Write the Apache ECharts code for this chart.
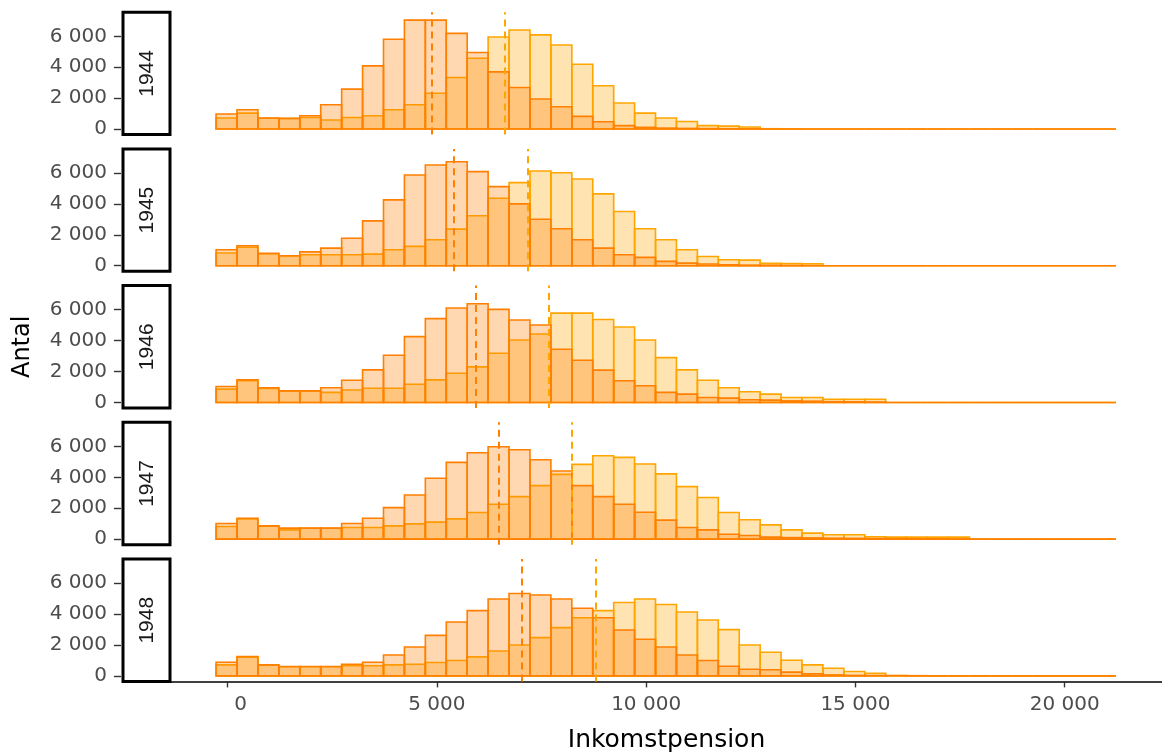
<!DOCTYPE html>
<html>
<head>
<meta charset="utf-8">
<script src="https://cdn.jsdelivr.net/npm/echarts@6/dist/echarts.min.js"></script>
<style>
  html, body { margin: 0; padding: 0; background: #fff; }
  #container { width: 1162px; height: 755px; }
</style>
</head>
<body>
<div id="container"></div>
<script>
var dom = document.getElementById('container');
var myChart = echarts.init(dom, null, { renderer: 'canvas' });

// facets
const years = ['1944', '1945', '1946', '1947', '1948'];

// histogram bins (Inkomstpension), 43 bins
const binStart = -275;
const binWidth = 500;

// counts per bin, women (Kvinnor)
const women1944 = [970, 1250, 710, 690, 860, 1570, 2580, 4090, 5810, 7050, 7050, 6190, 4950, 3700, 2690, 1940, 1440, 820, 470, 220, 110, 60, 40, 30, 20, 10, 0, 0, 0, 0, 0, 0, 0, 0, 0, 0, 0, 0, 0, 0, 0, 0, 0];
const women1945 = [1030, 1290, 800, 650, 900, 1140, 1780, 2900, 4260, 5870, 6520, 6730, 6090, 5120, 4000, 3010, 2390, 1680, 1140, 710, 540, 280, 170, 110, 60, 40, 30, 20, 10, 0, 0, 0, 0, 0, 0, 0, 0, 0, 0, 0, 0, 0, 0];
const women1946 = [1030, 1460, 950, 750, 750, 950, 1440, 2110, 3050, 4260, 5420, 6110, 6390, 6020, 5330, 5010, 3440, 2730, 2090, 1400, 1080, 650, 540, 320, 280, 170, 150, 100, 80, 50, 40, 30, 0, 0, 0, 0, 0, 0, 0, 0, 0, 0, 0];
const women1947 = [1010, 1350, 860, 710, 710, 710, 1010, 1350, 2040, 2860, 3940, 4970, 5590, 5980, 5780, 5140, 4410, 3460, 2750, 2260, 1740, 1230, 750, 600, 320, 240, 130, 100, 80, 60, 50, 40, 30, 20, 20, 10, 0, 0, 0, 0, 0, 0, 0];
const women1948 = [880, 1250, 710, 600, 600, 600, 750, 880, 1350, 1870, 2620, 3480, 4220, 4970, 5330, 5230, 4970, 4370, 3760, 2970, 2370, 1870, 1350, 990, 620, 430, 390, 240, 130, 60, 30, 20, 10, 0, 0, 0, 0, 0, 0, 0, 0, 0, 0];

// counts per bin, men (Män)
const men1944 = [710, 1030, 700, 680, 750, 580, 750, 860, 1250, 1570, 2320, 3330, 4580, 5960, 6410, 6090, 5440, 4190, 2800, 1680, 1030, 710, 490, 220, 190, 130, 20, 10, 0, 0, 0, 0, 0, 0, 0, 0, 0, 0, 0, 0, 0, 0, 0];
const men1945 = [820, 1200, 780, 640, 710, 710, 710, 750, 1030, 1250, 1680, 2370, 3230, 4370, 5380, 6130, 6020, 5610, 4650, 3510, 2390, 1680, 1030, 600, 390, 360, 150, 140, 130, 0, 0, 0, 0, 0, 0, 0, 0, 0, 0, 0, 0, 0, 0];
const men1946 = [860, 1400, 900, 740, 740, 650, 800, 920, 920, 1180, 1460, 1890, 2300, 3180, 4040, 4430, 5780, 5780, 5370, 4880, 4040, 2900, 2110, 1440, 950, 690, 540, 320, 320, 210, 210, 210, 0, 0, 0, 0, 0, 0, 0, 0, 0, 0, 0];
const men1947 = [820, 1300, 840, 600, 700, 700, 750, 750, 860, 990, 1100, 1310, 1720, 2260, 2750, 3460, 4190, 4840, 5400, 5290, 4860, 4220, 3400, 2690, 1720, 1250, 920, 600, 390, 280, 280, 150, 130, 130, 130, 130, 0, 0, 0, 0, 0, 0, 0];
const men1948 = [710, 1200, 700, 590, 590, 590, 650, 650, 710, 750, 860, 990, 1230, 1610, 2000, 2470, 3120, 3760, 4220, 4750, 4970, 4620, 4130, 3610, 2990, 2000, 1530, 1010, 710, 490, 280, 170, 20, 10, 0, 0, 0, 0, 0, 0, 0, 0, 0];

// mean lines
const womenMean = [4880, 5400, 5920, 6490, 7040];
const menMean = [6620, 7180, 7670, 8220, 8790];

// axis ticks
const xTicks = [0, 5000, 10000, 15000, 20000];
const yTicks = [0, 2000, 4000, 6000];

const womenCounts = [women1944, women1945, women1946, women1947, women1948];
const menCounts = [men1944, men1945, men1946, men1947, men1948];

const womenColor = '#ff7f00';
const womenFill = 'rgba(255,127,0,0.3)';
const menColor = '#ffa500';
const menFill = 'rgba(255,165,0,0.3)';

const xMin = -1352, xMax = 22326;
const yMin = -360, yMax = 7560;

const panelLeft = 171, panelWidth = 1003;
const panelTop0 = 12.2, panelStep = 136.7, panelHeight = 122.4;

function fmt(v) {
  return String(v).replace(/\B(?=(\d{3})+(?!\d))/g, ' ');
}

function toBins(counts) {
  return counts.map((n, i) => [binStart + i * binWidth, binStart + (i + 1) * binWidth, n]);
}

function histSeries(k, counts, stroke, fill, mean, z) {
  return {
    type: 'custom',
    xAxisIndex: k,
    yAxisIndex: k,
    z: z,
    silent: true,
    encode: { x: [0, 1], y: 2 },
    data: toBins(counts),
    renderItem: function (params, api) {
      var p0 = api.coord([api.value(0), api.value(2)]);
      var p1 = api.coord([api.value(1), 0]);
      return {
        type: 'rect',
        shape: { x: p0[0], y: p0[1], width: p1[0] - p0[0], height: p1[1] - p0[1] },
        style: { fill: fill, stroke: stroke, lineWidth: 1.6 }
      };
    },
    markLine: {
      silent: true,
      symbol: 'none',
      label: { show: false },
      lineStyle: { color: stroke, type: [7, 5], width: 2 },
      data: [{ xAxis: mean }]
    }
  };
}

var grids = [], xAxes = [], yAxes = [], series = [], graphics = [];

years.forEach(function (yr, k) {
  var top = panelTop0 + k * panelStep;
  var last = k === years.length - 1;
  grids.push({ left: panelLeft, top: top, width: panelWidth, height: panelHeight });
  xAxes.push({
    gridIndex: k,
    type: 'value',
    min: xMin,
    max: xMax,
    show: last,
    splitLine: { show: false },
    axisLine: { show: last, onZero: false, lineStyle: { color: '#000', width: 1.6 } },
    axisTick: { show: last, length: 6, customValues: xTicks, lineStyle: { color: '#333', width: 1.4 } },
    axisLabel: {
      show: last,
      customValues: xTicks,
      margin: 13,
      fontFamily: 'DejaVu Sans',
      fontSize: 20,
      color: '#4d4d4d',
      formatter: function (v) { return v === 0 ? '{z|0}' : fmt(v); },
      rich: { z: { padding: [0, 0, 0, 26], fontFamily: 'DejaVu Sans', fontSize: 20, color: '#4d4d4d' } }
    },
    name: last ? 'Inkomstpension' : '',
    nameLocation: 'middle',
    nameGap: 47,
    nameTextStyle: { fontFamily: 'DejaVu Sans', fontSize: 25, color: '#000' }
  });
  yAxes.push({
    gridIndex: k,
    type: 'value',
    min: yMin,
    max: yMax,
    offset: 50,
    splitLine: { show: false },
    axisLine: { show: false, onZero: false },
    axisTick: { show: true, length: 7, customValues: yTicks, lineStyle: { color: '#333', width: 1.4 } },
    axisLabel: {
      customValues: yTicks,
      margin: 14,
      fontFamily: 'DejaVu Sans',
      fontSize: 20,
      color: '#4d4d4d',
      formatter: fmt
    },
    name: k === 2 ? 'Antal' : '',
    nameLocation: 'middle',
    nameRotate: 90,
    nameGap: 86,
    nameTextStyle: { fontFamily: 'DejaVu Sans', fontSize: 24, color: '#000' }
  });
  series.push(histSeries(k, menCounts[k], menColor, menFill, menMean[k], 2));
  series.push(histSeries(k, womenCounts[k], womenColor, womenFill, womenMean[k], 3));

  // facet strip on the left
  graphics.push({
    type: 'rect',
    shape: { x: 123, y: top, width: 47, height: panelHeight },
    style: { fill: '#fff', stroke: '#000', lineWidth: 3 },
    z: 10
  });
  graphics.push({
    type: 'text',
    x: 147,
    y: top + panelHeight / 2,
    rotation: Math.PI / 2,
    style: {
      text: yr,
      fontFamily: 'Liberation Sans',
      fontSize: 21,
      fill: '#1a1a1a',
      align: 'center',
      verticalAlign: 'middle'
    },
    z: 11
  });
});

var option = {
  animation: false,
  backgroundColor: '#fff',
  grid: grids,
  xAxis: xAxes,
  yAxis: yAxes,
  series: series,
  graphic: graphics
};

myChart.setOption(option);
window.addEventListener('resize', myChart.resize);
</script>
</body>
</html>
